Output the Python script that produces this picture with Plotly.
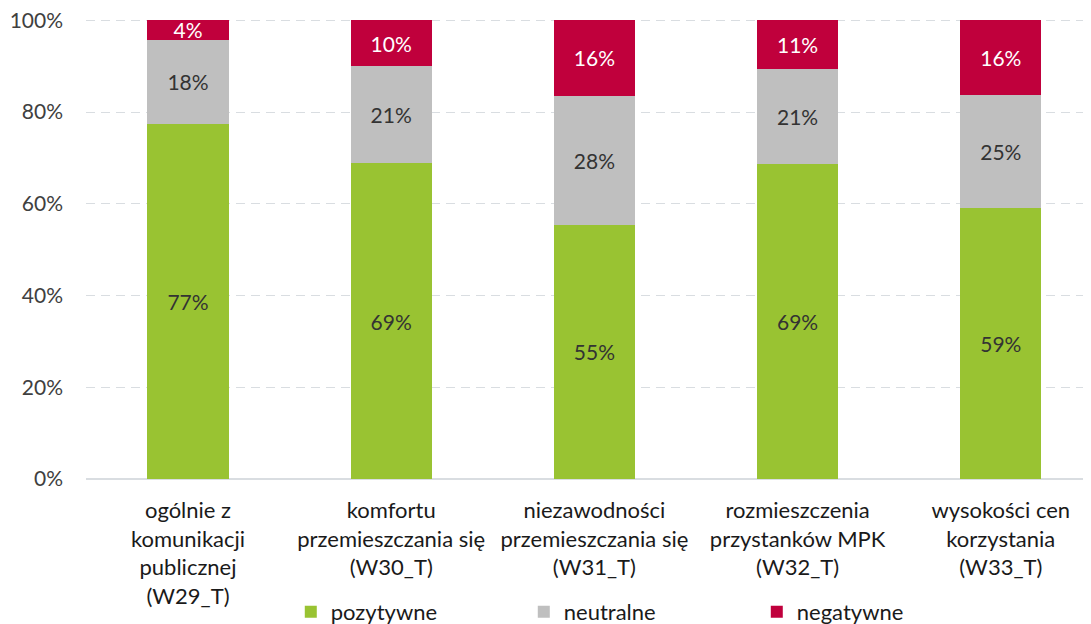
import plotly.graph_objects as go

categories = [
    "ogólnie z<br>komunikacji<br>publicznej<br>(W29_T)",
    "komfortu<br>przemieszczania się<br>(W30_T)",
    "niezawodności<br>przemieszczania się<br>(W31_T)",
    "rozmieszczenia<br>przystanków MPK<br>(W32_T)",
    "wysokości cen<br>korzystania<br>(W33_T)",
]
pozytywne = [77.4, 68.8, 55.4, 68.6, 59.1]
neutralne = [18.4, 21.2, 28.2, 20.8, 24.6]
negatywne = [4.2, 10.0, 16.4, 10.6, 16.3]
labels_poz = ["77%", "69%", "55%", "69%", "59%"]
labels_neu = ["18%", "21%", "28%", "21%", "25%"]
labels_neg = ["4%", "10%", "16%", "11%", "16%"]
y_ticks = [0, 20, 40, 60, 80, 100]
y_ticktext = ["0%", "20%", "40%", "60%", "80%", "100%"]

FONT = "Lato"
x_idx = list(range(len(categories)))

fig = go.Figure()
series = [
    ("pozytywne", pozytywne, labels_poz, "#99C332", "#333333"),
    ("neutralne", neutralne, labels_neu, "#BFBFBF", "#333333"),
    ("negatywne", negatywne, labels_neg, "#C0003C", "#FFFFFF"),
]
for name, vals, labs, col, tcol in series:
    fig.add_trace(go.Bar(
        x=x_idx, y=vals, name=name, text=labs, texttemplate="%{text}",
        textposition="inside", insidetextanchor="middle",
        textfont=dict(family=FONT, size=21, color=tcol),
        marker=dict(color=col, line=dict(width=0)),
        width=0.4, hoverinfo="skip", cliponaxis=False,
    ))

# the page body has an 8px margin, so the figure is laid out 8px up/left
fig.update_layout(
    barmode="stack",
    width=1091, height=624,
    margin=dict(l=78, r=9, t=9.7, b=153, autoexpand=False),
    paper_bgcolor="white", plot_bgcolor="white",
    font=dict(family=FONT, size=21, color="#404040"),
    uniformtext=dict(mode="show", minsize=21),
    legend=dict(
        orientation="h", xref="container", yref="container",
        x=0.2592, xanchor="left", y=0.032, yanchor="middle",
        font=dict(family=FONT, size=22, color="#1a1a1a"),
        entrywidth=188, traceorder="normal",
    ),
    showlegend=True,
)
fig.update_xaxes(
    tickvals=x_idx, ticktext=categories, range=[-0.502, 4.439],
    showgrid=False, zeroline=False, showline=False, automargin=False,
    ticks="", ticklabelstandoff=16,
    tickfont=dict(family=FONT, size=22, color="#1a1a1a"),
)
fig.update_yaxes(
    range=[0, 100.5], tickvals=y_ticks, ticktext=y_ticktext,
    showgrid=True, gridcolor="#D9DDE1", griddash="9px,6px", gridwidth=1.3,
    zeroline=True, zerolinecolor="#D9DDE1", zerolinewidth=1.5,
    showline=False, ticks="", ticklabelstandoff=22, automargin=False,
    ticklabeloverflow="allow",
    tickfont=dict(family=FONT, size=21, color="#404040"),
)

fig.write_html("out.html")
